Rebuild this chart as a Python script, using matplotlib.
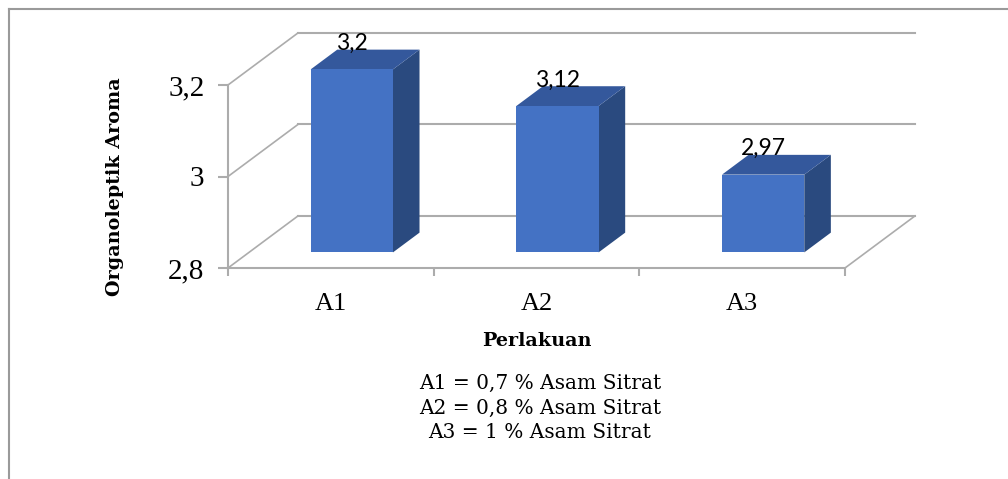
import matplotlib.pyplot as plt
from matplotlib.patches import Polygon, Rectangle
from matplotlib.lines import Line2D

categories = ["A1", "A2", "A3"]
values = [3.2, 3.12, 2.97]
value_labels = ["3,2", "3,12", "2,97"]
y_ticks = [2.8, 3.0, 3.2]
y_tick_labels = ["2,8", "3", "3,2"]
notes = ["A1 = 0,7 % Asam Sitrat", "A2 = 0,8 % Asam Sitrat", "A3 = 1 % Asam Sitrat"]

W, H = 1008, 479
fig = plt.figure(figsize=(W / 100, H / 100), dpi=100)
fig.patch.set_facecolor("white")

# front plane of the 3d box
ax = fig.add_axes([228 / W, 1 - 268 / H, 617 / W, 183 / H])
ax.set_xlim(-0.5, len(categories) - 0.5)
ax.set_ylim(y_ticks[0], y_ticks[-1])
ax.patch.set_alpha(0)

grid_c = "#acacac"
for s in ["top", "right"]:
    ax.spines[s].set_visible(False)
for s in ["left", "bottom"]:
    ax.spines[s].set_color(grid_c)
    ax.spines[s].set_linewidth(1.5)

# depth of the box in data units
DX, DY = 0.34, 0.1137
f0, f1 = 0.3, 0.68
bw = 0.4

x_lo, x_hi = -0.5, len(categories) - 0.5
base = y_ticks[0]

# back wall gridlines, left wall and floor edges
for t in y_ticks:
    ax.plot([x_lo + DX, x_hi + DX], [t + DY, t + DY], color=grid_c, lw=1.5, clip_on=False, zorder=1)
    ax.plot([x_lo, x_lo + DX], [t, t + DY], color=grid_c, lw=1.2, clip_on=False, zorder=1)
ax.plot([x_hi, x_hi + DX], [base, base + DY], color=grid_c, lw=1.2, clip_on=False, zorder=1)

front_c, side_c, top_c = "#4472c4", "#2a4a7f", "#34589c"
d = f1 - f0
for i, v in enumerate(values):
    x0 = i - bw / 2 + f0 * DX
    x1 = x0 + bw
    yb = base + f0 * DY
    yt = v + f0 * DY
    ax.add_patch(Polygon([(x1, yb), (x1, yt), (x1 + d * DX, yt + d * DY), (x1 + d * DX, yb + d * DY)],
                         closed=True, facecolor=side_c, edgecolor="none", clip_on=False, zorder=3))
    ax.add_patch(Polygon([(x0, yt), (x1, yt), (x1 + d * DX, yt + d * DY), (x0 + d * DX, yt + d * DY)],
                         closed=True, facecolor=top_c, edgecolor="none", clip_on=False, zorder=3))
    ax.add_patch(Rectangle((x0, yb), bw, v - base, facecolor=front_c, edgecolor="none",
                           clip_on=False, zorder=4))
    ax.annotate(value_labels[i], (i + f0 * DX, v + f1 * DY), xytext=(0, 4.5), textcoords="offset points",
                ha="center", va="center", fontsize=16.5, family="Lato", zorder=5, annotation_clip=False)

ax.set_yticks(y_ticks)
ax.set_yticklabels(y_tick_labels, family="Liberation Serif", fontsize=21)
ax.tick_params(axis="y", length=7, width=1.5, color=grid_c, pad=10)
ax.set_xticks(range(len(categories)))
ax.set_xticklabels(categories, family="Liberation Serif", fontsize=19)
ax.set_xticks([x_lo + k for k in range(len(categories) + 1)], minor=True)
ax.tick_params(axis="x", which="major", length=0, pad=18)
ax.tick_params(axis="x", which="minor", length=6, width=1.5, color=grid_c)

fig.text(115 / W, 1 - 187 / H, "Organoleptik Aroma", rotation=90, ha="center", va="center",
         family="DejaVu Serif", fontweight="bold", fontsize=13.8)
fig.text(537 / W, 1 - 341 / H, "Perlakuan", ha="center", va="center",
         family="DejaVu Serif", fontweight="bold", fontsize=13.8)
for k, line in enumerate(notes):
    fig.text(540 / W, 1 - (383 + 25 * k) / H, line, ha="center", va="center",
             family="DejaVu Serif", fontsize=14.5)

# outer frame
fig.add_artist(Line2D([9 / W, 1], [1 - 9 / H, 1 - 9 / H], color="#9a9a9a", lw=1.5))
fig.add_artist(Line2D([9 / W, 9 / W], [0, 1 - 9 / H], color="#9a9a9a", lw=1.5))

fig.savefig("out.png", dpi=100)
